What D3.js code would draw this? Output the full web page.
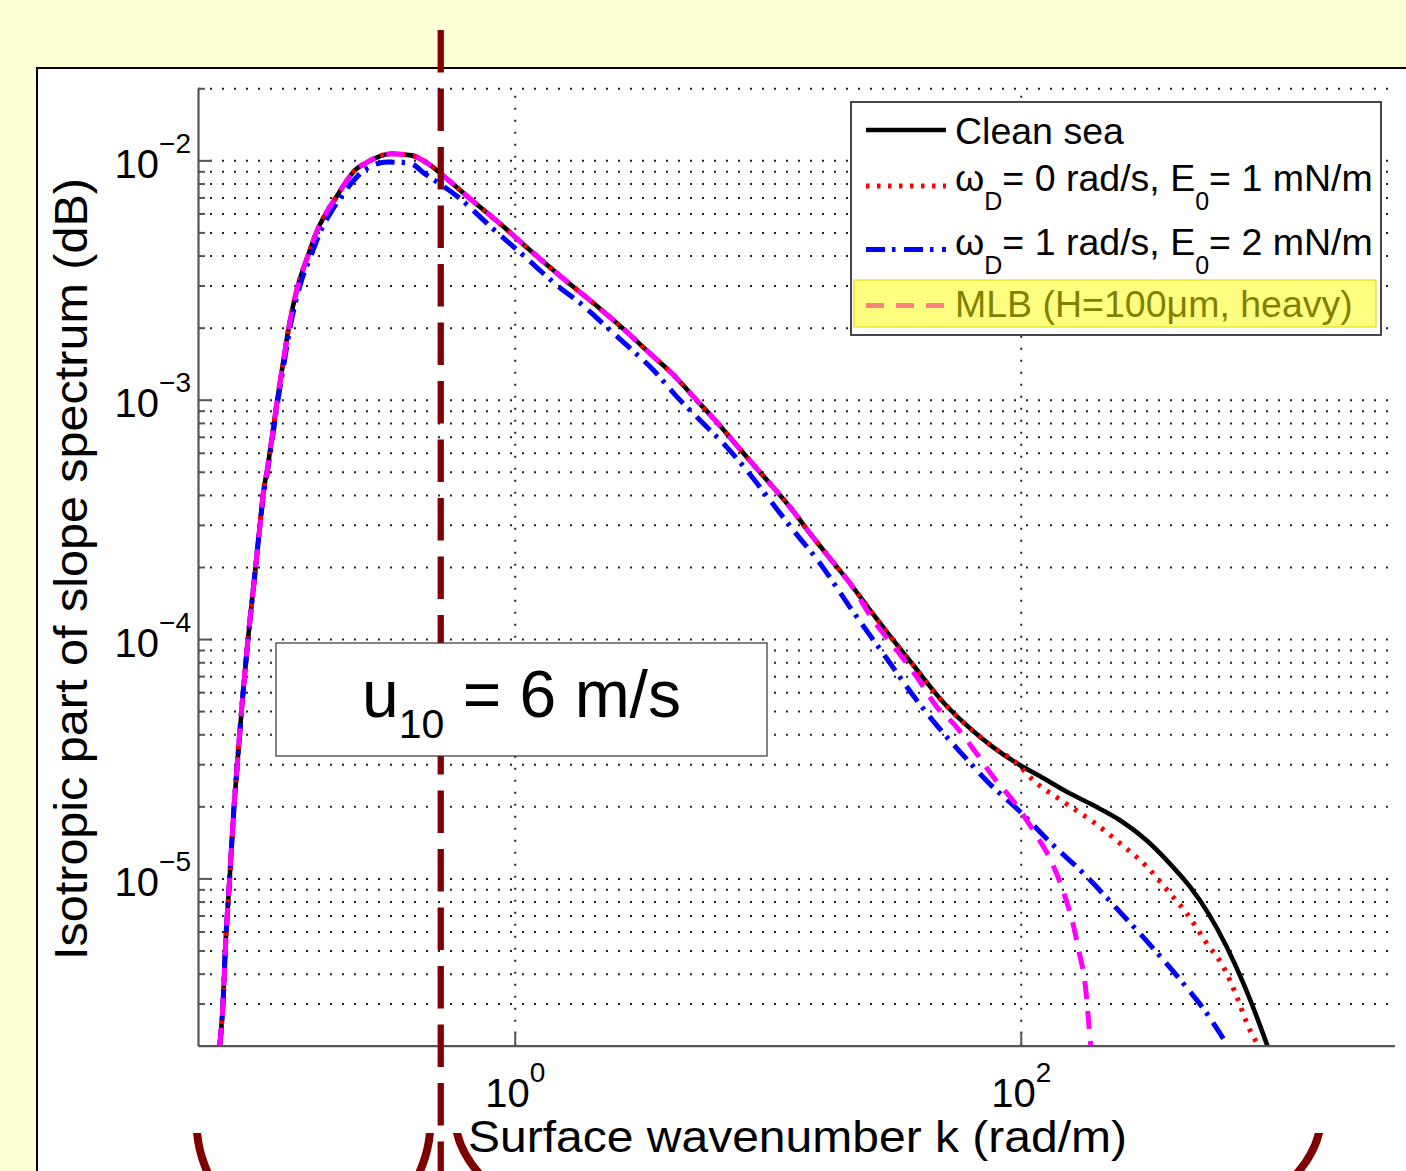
<!DOCTYPE html>
<html>
<head>
<meta charset="utf-8">
<script src="https://cdn.jsdelivr.net/npm/d3@7"></script>
<style>
  html, body { margin: 0; padding: 0; background: #ffffd7; }
  svg { display: block; }
  text { font-family: "Liberation Sans", Arial, Helvetica, sans-serif; fill: #000; }
</style>
</head>
<body>
<svg id="chart" width="1406" height="1171"></svg>
<script>
// ---- axis ranges and tick labels ----
const xDomain = [0.056, 3000];          // surface wavenumber k (rad/m)
const yDomain = [2e-6, 2e-2];           // isotropic slope spectrum
const xTicks = [1, 100];
const xTickExp = ["0", "2"];
const yTicks = [1e-5, 1e-4, 1e-3, 1e-2];
const yTickExp = ["\u22125", "\u22124", "\u22123", "\u22122"];

// ---- clean sea ----
const kClean = [0.0682,0.0703,0.0718,0.0747,0.0777,0.0801,0.0844,0.0883,0.0947,0.0985,
  0.1012,0.1049,0.1098,0.1153,0.1214,0.1279,0.1391,0.1524,0.1643,0.1791,
  0.1972,0.2129,0.2332,0.2554,0.3253,0.3903,0.4543,0.5289,0.6536,0.8851,
  1.129,1.576,2.174,2.771,3.426,4.174,5.242,6.286,8.260,10.21,
  12.25,14.70,17.63,21.15,25.37,29.70,37.09,50.21,64.96,77.94,
  96.4,119.2,152.0,193.6,246.9,314.8,389.2,467.0,551.3,651.9,
  758.5,856.5,943.4];
const sClean = [2.00e-6,3.00e-6,5.05e-6,1.00e-5,1.98e-5,3.02e-5,5.97e-5,1.00e-4,2.02e-4,3.02e-4,
  4.02e-4,5.02e-4,6.95e-4,1.00e-3,1.42e-3,2.00e-3,3.00e-3,4.00e-3,4.99e-3,5.99e-3,
  7.03e-3,7.99e-3,9.08e-3,9.69e-3,1.066e-2,1.049e-2,9.69e-3,8.52e-3,7.03e-3,5.38e-3,
  4.28e-3,3.17e-3,2.40e-3,1.92e-3,1.56e-3,1.29e-3,9.94e-4,8.07e-4,5.76e-4,4.46e-4,
  3.56e-4,2.76e-4,2.17e-4,1.71e-4,1.32e-4,1.064e-4,7.92e-5,5.34e-5,4.12e-5,3.53e-5,
  3.03e-5,2.67e-5,2.30e-5,2.02e-5,1.75e-5,1.44e-5,1.15e-5,9.21e-6,7.14e-6,5.17e-6,
  3.64e-6,2.64e-6,2.00e-6];

// ---- slick, omega_D = 0 rad/s, E0 = 1 mN/m ----
const kFilm1 = [0.0682,0.0703,0.0718,0.0747,0.0777,0.0801,0.0844,0.0883,0.0947,0.0985,
  0.1012,0.1049,0.1098,0.1153,0.1214,0.1279,0.1391,0.1524,0.1643,0.1791,
  0.1972,0.2129,0.2332,0.2554,0.3253,0.3903,0.4543,0.5289,0.6536,0.8851,
  1.129,1.576,2.174,2.771,3.426,4.174,5.242,6.286,8.260,10.21,
  12.25,14.70,17.63,21.15,25.37,29.70,37.09,50.21,64.96,77.94,
  96.4,112.1,147.4,193.6,246.9,314.8,389.2,453.1,543.4,632.1,
  714.3,793.6,869.2];
const sFilm1 = [2.00e-6,3.00e-6,5.05e-6,1.00e-5,1.98e-5,3.02e-5,5.97e-5,1.00e-4,2.02e-4,3.02e-4,
  4.02e-4,5.02e-4,6.95e-4,1.00e-3,1.42e-3,2.00e-3,3.00e-3,4.00e-3,4.99e-3,5.99e-3,
  7.03e-3,7.99e-3,9.08e-3,9.69e-3,1.066e-2,1.049e-2,9.69e-3,8.52e-3,7.03e-3,5.38e-3,
  4.28e-3,3.17e-3,2.40e-3,1.92e-3,1.56e-3,1.29e-3,9.94e-4,8.07e-4,5.76e-4,4.46e-4,
  3.56e-4,2.76e-4,2.17e-4,1.71e-4,1.32e-4,1.064e-4,7.92e-5,5.34e-5,4.12e-5,3.53e-5,
  3.03e-5,2.57e-5,2.09e-5,1.72e-5,1.40e-5,1.12e-5,8.65e-6,7.14e-6,5.35e-6,4.27e-6,
  3.20e-6,2.40e-6,2.00e-6];

// ---- slick, omega_D = 1 rad/s, E0 = 2 mN/m ----
const kFilm2 = [0.0682,0.0703,0.0718,0.0747,0.0777,0.0801,0.0844,0.0883,0.0947,0.0985,
  0.1017,0.1054,0.1103,0.1160,0.1225,0.1294,0.1417,0.1566,0.1699,0.1862,
  0.2058,0.2254,0.2537,0.3157,0.3856,0.4408,0.5970,0.8083,1.129,1.439,
  1.867,2.310,2.771,3.530,4.369,5.565,6.886,8.260,10.21,12.62,
  16.10,21.02,29.54,38.81,48.72,57.55,74.07,100.9,128.6,176.8,
  248.5,314.8,450.3,526.8,632.1];
const sFilm2 = [2.00e-6,3.00e-6,5.05e-6,1.00e-5,1.98e-5,3.02e-5,5.97e-5,1.00e-4,2.02e-4,3.02e-4,
  4.02e-4,5.02e-4,6.95e-4,1.00e-3,1.42e-3,2.00e-3,3.00e-3,4.00e-3,4.99e-3,5.99e-3,
  7.03e-3,7.99e-3,9.08e-3,9.84e-3,9.72e-3,8.80e-3,7.03e-3,5.25e-3,3.85e-3,3.06e-3,
  2.47e-3,2.01e-3,1.69e-3,1.33e-3,1.03e-3,7.95e-4,6.34e-4,5.07e-4,3.80e-4,2.85e-4,
  2.07e-4,1.37e-4,8.29e-5,5.55e-5,4.12e-5,3.38e-5,2.53e-5,1.87e-5,1.44e-5,1.05e-5,
  7.18e-6,5.47e-6,3.52e-6,2.86e-6,2.14e-6];

// ---- MLB (H = 100 um, heavy) ----
const kMlb = [0.0682,0.0703,0.0718,0.0747,0.0777,0.0801,0.0844,0.0883,0.0947,0.0985,
  0.1012,0.1049,0.1098,0.1153,0.1214,0.1279,0.1391,0.1524,0.1643,0.1791,
  0.1972,0.2129,0.2332,0.2554,0.3253,0.3903,0.4543,0.5289,0.6536,0.8851,
  1.129,1.576,2.174,2.771,3.426,4.174,5.242,6.286,8.260,10.21,
  12.25,14.70,17.63,21.15,26.15,32.35,38.81,46.56,54.15,67.01,
  77.94,94.95,113.2,131.4,146.6,161.4,170.4,179.6,186.7,189.1];
const sMlb = [2.00e-6,3.00e-6,5.05e-6,1.00e-5,1.98e-5,3.02e-5,5.97e-5,1.00e-4,2.02e-4,3.02e-4,
  4.02e-4,5.02e-4,6.95e-4,1.00e-3,1.42e-3,2.00e-3,3.00e-3,4.00e-3,4.99e-3,5.99e-3,
  7.03e-3,7.99e-3,9.08e-3,9.69e-3,1.066e-2,1.049e-2,9.69e-3,8.52e-3,7.03e-3,5.38e-3,
  4.28e-3,3.17e-3,2.40e-3,1.92e-3,1.56e-3,1.29e-3,9.94e-4,8.07e-4,5.76e-4,4.46e-4,
  3.56e-4,2.76e-4,2.17e-4,1.71e-4,1.198e-4,8.98e-5,6.95e-5,5.21e-5,4.44e-5,3.32e-5,
  2.65e-5,2.06e-5,1.56e-5,1.19e-5,8.93e-6,6.37e-6,4.86e-6,3.64e-6,2.32e-6,2.00e-6];

// wavenumber marked by the vertical dashed line
const markerK = 0.51;

// legend entries (text segments, subscripts flagged)
const legendRows = [
  [{t: "Clean sea"}],
  [{t: "\u03c9"}, {t: "D", sub: true}, {t: "= 0 rad/s, E"}, {t: "0", sub: true}, {t: "= 1 mN/m"}],
  [{t: "\u03c9"}, {t: "D", sub: true}, {t: "= 1 rad/s, E"}, {t: "0", sub: true}, {t: "= 2 mN/m"}],
  [{t: "MLB (H=100\u03bcm, heavy)"}]
];

// ---- drawing ----
const W = 1406, H = 1171;
const svg = d3.select("#chart");

svg.append("rect").attr("width", W).attr("height", H).attr("fill", "#ffffd7");
// white figure panel
svg.append("rect").attr("x", 37).attr("y", 68).attr("width", W).attr("height", H)
  .attr("fill", "#fff").attr("stroke", "#000").attr("stroke-width", 2);

const plot = {left: 198, right: 1394.5, top: 88.3, bottom: 1045.7};
const x = d3.scaleLog().domain(xDomain).range([plot.left, plot.right]);
const y = d3.scaleLog().domain(yDomain).range([plot.bottom, plot.top]);

// grid values: every mantissa 1..9 per decade inside the y range
const yGrid = [];
for (let e = -6; e <= -2; e++) {
  for (let m = 1; m <= 9; m++) {
    const v = m * Math.pow(10, e);
    if (v > yDomain[0] * 1.001 && v <= yDomain[1] * 1.001) yGrid.push(v);
  }
}
const yMinor = yGrid.filter(v => !yTicks.some(t => Math.abs(t - v) / t < 1e-6));

const gridColor = "#222";
const gGridY = svg.append("g").attr("transform", `translate(${plot.left},0)`)
  .call(d3.axisLeft(y).tickValues(yGrid).tickSize(-(plot.right - plot.left)).tickFormat(""));
gGridY.select(".domain").remove();
gGridY.selectAll(".tick line").attr("stroke", gridColor).attr("stroke-width", 2)
  .attr("stroke-dasharray", "2,10");

const gGridX = svg.append("g").attr("transform", `translate(0,${plot.bottom})`)
  .call(d3.axisBottom(x).tickValues(xTicks).tickSize(-(plot.bottom - plot.top)).tickFormat(""));
gGridX.select(".domain").remove();
gGridX.selectAll(".tick line").attr("stroke", gridColor).attr("stroke-width", 2)
  .attr("stroke-dasharray", "2,10");

// curves
svg.append("clipPath").attr("id", "plotClip").append("rect")
  .attr("x", plot.left).attr("y", plot.top)
  .attr("width", plot.right - plot.left).attr("height", plot.bottom - plot.top);

const zip = (ks, ss) => ks.map((k, i) => ({k, s: ss[i]}));
const series = [
  {data: zip(kClean, sClean), color: "#000000", width: 4.6, dash: null},
  {data: zip(kFilm1, sFilm1), color: "#ff0000", width: 5, dash: "3.5,7.5"},
  {data: zip(kFilm2, sFilm2), color: "#0000ff", width: 5, dash: "19,7,3.5,8.5"},
  {data: zip(kMlb, sMlb), color: "#ff00ff", width: 5, dash: "18,12"}
];
const line = d3.line().x(d => x(d.k)).y(d => y(d.s)).curve(d3.curveMonotoneX);
const gCurves = svg.append("g").attr("clip-path", "url(#plotClip)");
series.forEach(s => {
  gCurves.append("path").attr("d", line(s.data)).attr("fill", "none")
    .attr("stroke", s.color).attr("stroke-width", s.width)
    .attr("stroke-dasharray", s.dash)
    .attr("stroke-linejoin", "round");
});

// axes (inward ticks)
const axisColor = "#555";
const gYMinor = svg.append("g").attr("transform", `translate(${plot.left},0)`)
  .call(d3.axisLeft(y).tickValues(yMinor).tickSize(-7).tickSizeOuter(0).tickFormat(""));
gYMinor.select(".domain").remove();
const gYMajor = svg.append("g").attr("transform", `translate(${plot.left},0)`)
  .call(d3.axisLeft(y).tickValues(yTicks).tickSize(-14).tickSizeOuter(0).tickFormat(""));
const gX = svg.append("g").attr("transform", `translate(0,${plot.bottom})`)
  .call(d3.axisBottom(x).tickValues(xTicks).tickSize(-14).tickSizeOuter(0).tickFormat(""));
[gYMinor, gYMajor, gX].forEach(g => {
  g.selectAll(".tick line").attr("stroke", axisColor).attr("stroke-width", 2);
  g.select(".domain").attr("stroke", axisColor).attr("stroke-width", 2.2);
});

// power-of-ten tick labels
gYMajor.selectAll(".tick").each(function(d, i) {
  const t = d3.select(this).append("text").attr("x", -7).attr("y", 17)
    .attr("text-anchor", "end").attr("font-size", 40).attr("fill", "#000");
  t.append("tspan").text("10");
  t.append("tspan").attr("font-size", 28).attr("dy", -25).text(yTickExp[i]);
});
gX.selectAll(".tick").each(function(d, i) {
  const t = d3.select(this).append("text").attr("x", 0).attr("y", 61)
    .attr("text-anchor", "middle").attr("font-size", 40).attr("fill", "#000");
  t.append("tspan").text("10");
  t.append("tspan").attr("font-size", 28).attr("dy", -25).text(xTickExp[i]);
});

// axis titles
svg.append("text")
  .attr("transform", "translate(87,569) rotate(-90)")
  .attr("text-anchor", "middle").attr("font-size", 47)
  .attr("textLength", 782).attr("lengthAdjust", "spacingAndGlyphs")
  .text("Isotropic part of slope spectrum (dB)");
svg.append("text")
  .attr("x", 797.5).attr("y", 1152)
  .attr("text-anchor", "middle").attr("font-size", 45)
  .attr("textLength", 659).attr("lengthAdjust", "spacingAndGlyphs")
  .text("Surface wavenumber k (rad/m)");

// vertical dashed marker
const maroon = "#7f0000";
svg.append("line")
  .attr("x1", x(markerK)).attr("x2", x(markerK))
  .attr("y1", 30).attr("y2", H)
  .attr("stroke", maroon).attr("stroke-width", 6.3)
  .attr("stroke-dasharray", "42.5,16");

// wind speed box
svg.append("rect").attr("x", 276).attr("y", 643).attr("width", 491).attr("height", 113)
  .attr("fill", "#fff").attr("stroke", "#333").attr("stroke-width", 1.2);
const uText = svg.append("text").attr("x", 521.5).attr("y", 717)
  .attr("text-anchor", "middle").attr("font-size", 66);
uText.append("tspan").text("u");
uText.append("tspan").attr("font-size", 41).attr("dy", 21).text("10");
uText.append("tspan").attr("dy", -21).text(" = 6 m/s");

// legend
const lg = svg.append("g");
lg.append("rect").attr("x", 851).attr("y", 102).attr("width", 530).attr("height", 233)
  .attr("fill", "#fff").attr("stroke", "#333").attr("stroke-width", 1.8);
const rowBase = [144, 191, 255, 317];
const rowLine = [130, 186, 249.5, 305.5];
legendRows.forEach((segs, i) => {
  const s = series[i];
  lg.append("line").attr("x1", 866).attr("x2", 946)
    .attr("y1", rowLine[i]).attr("y2", rowLine[i])
    .attr("stroke", s.color).attr("stroke-width", s.width)
    .attr("stroke-dasharray", s.dash);
  const t = lg.append("text").attr("x", 955).attr("y", rowBase[i]).attr("font-size", 37.5);
  let shifted = false;
  segs.forEach(seg => {
    const ts = t.append("tspan").text(seg.t);
    if (seg.sub) { ts.attr("font-size", 25).attr("dy", 19); shifted = true; }
    else if (shifted) { ts.attr("dy", -19); shifted = false; }
  });
});
// translucent highlight over the last entry
lg.append("rect").attr("x", 854).attr("y", 280).attr("width", 522).attr("height", 47)
  .attr("fill", "#ffff00").attr("fill-opacity", 0.5)
  .attr("stroke", "#d8d800").attr("stroke-width", 1);

// bracket ellipses along the bottom edge
svg.append("clipPath").attr("id", "bottomClip").append("rect")
  .attr("x", 0).attr("y", 1133).attr("width", W).attr("height", H - 1133);
const gEll = svg.append("g").attr("clip-path", "url(#bottomClip)");
gEll.append("ellipse").attr("cx", 313.5).attr("cy", 1121).attr("rx", 117).attr("ry", 121)
  .attr("fill", "none").attr("stroke", maroon).attr("stroke-width", 8);
gEll.append("ellipse").attr("cx", 888).attr("cy", 1116).attr("rx", 433).attr("ry", 175)
  .attr("fill", "none").attr("stroke", maroon).attr("stroke-width", 8);
</script>
</body>
</html>
